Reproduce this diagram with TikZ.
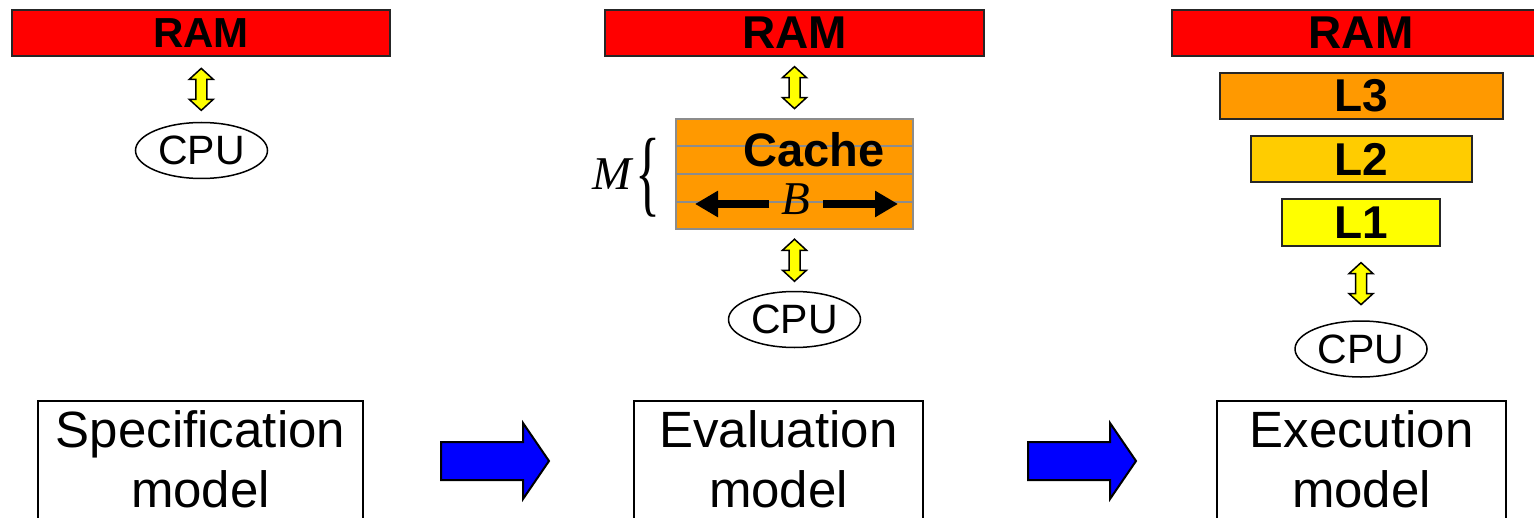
\documentclass[tikz,border=0pt]{standalone}
\usepackage{fontspec}
\usepackage{graphicx}
\setmainfont{Liberation Sans}
\newfontfamily\timesfont{Liberation Serif}
\usetikzlibrary{calc,arrows.meta,shapes.geometric}
\definecolor{ramred}{HTML}{FF0000}
\definecolor{cacheorange}{HTML}{FF9900}
\definecolor{ltwo}{HTML}{FFCC00}
\definecolor{lone}{HTML}{FFFF00}
\definecolor{busyellow}{HTML}{FFFF00}
\definecolor{flowblue}{HTML}{0000FF}
\definecolor{rimgray}{HTML}{8C8C8C}
\begin{document}
\begin{tikzpicture}[x=0.5pt,y=-0.5pt,
  membox/.style={draw=black!85, line width=1pt, rectangle, inner sep=0pt,
    minimum height=23pt, font=\bfseries\fontsize{23pt}{27pt}\selectfont},
  cpunode/.style={draw, ellipse, line width=0.75pt, minimum width=66pt,
    minimum height=28pt, inner sep=0pt, font=\fontsize{20.5pt}{24pt}\selectfont},
  modelbox/.style={draw, line width=0.75pt, rectangle, anchor=north,
    minimum height=80pt, inner sep=0pt},
  modeltext/.style={anchor=base, inner sep=0pt, font=\fontsize{25.5pt}{30pt}\selectfont},
  mathtext/.style={anchor=base, inner sep=0pt, font=\timesfont\itshape\fontsize{23.5pt}{28pt}\selectfont},
  barrow/.style={line width=4pt, -{Triangle[length=11.5pt,width=12.5pt]}},
  pics/yarrow/.style={code={
    \draw[fill=busyellow, line width=0.75pt, line join=miter]
      (0,-21) -- (12,-10) -- (5.5,-10) -- (5.5,10) -- (12,10) -- (0,21)
      -- (-12,10) -- (-5.5,10) -- (-5.5,-10) -- (-12,-10) -- cycle;}},
  pics/bluearrow/.style={code={
    \draw[fill=flowblue, line width=1pt, line join=miter]
      (-54,-19) -- (28,-19) -- (28,-38) -- (54,0) -- (28,38) -- (28,19)
      -- (-54,19) -- cycle;}}
]
\useasboundingbox (0,0) rectangle (1534,518);
\clip (0,0) rectangle (1534,518);

% ---------- specification model: RAM <-> CPU ----------
\node (ram1) [membox, fill=ramred, minimum width=189pt,
  font=\bfseries\fontsize{21pt}{25pt}\selectfont] at (201,33) {RAM};
\node (cpu1) [cpunode] at (201.5,150.5) {CPU};
\pic at ($(ram1.south)!0.5!(cpu1.north)$) {yarrow};

% ---------- evaluation model: RAM <-> cache <-> CPU ----------
\node (ram2) [membox, fill=ramred, minimum width=189.5pt] at (794.5,33) {RAM};
\node (cache) [draw=rimgray, line width=0.75pt, fill=cacheorange, rectangle,
  minimum width=118.5pt, minimum height=55pt, inner sep=0pt] at (794.5,174) {};
\foreach \f in {0.25,0.5,0.75}
  \draw[rimgray, line width=0.75pt]
    ($(cache.north west)!\f!(cache.south west)$) --
    ($(cache.north east)!\f!(cache.south east)$);
\node (cachetxt) [anchor=base, inner sep=0pt,
  font=\bfseries\fontsize{23.5pt}{28pt}\selectfont] at (814,167) {Cache};
\node (blabel) [mathtext, inner xsep=6pt] at (796,214) {B};
\coordinate (bleft) at (695,204);
\coordinate (bright) at (898,204);
\draw[barrow] (blabel.west |- bleft) -- (bleft);
\draw[barrow] (blabel.east |- bright) -- (bright);
\node (mlabel) [mathtext] at (612,190) {M};
\node (brace) [inner sep=0pt] at (647.5,177.5)
  {\resizebox*{12.5pt}{39.5pt}{\timesfont\{}};
\node (cpu2) [cpunode] at (794.5,319.5) {CPU};
\pic at ($(ram2.south)!0.5!(cache.north)$) {yarrow};
\pic at ($(cache.south)!0.5!(cpu2.north)$) {yarrow};

% ---------- execution model: RAM, L3, L2, L1 <-> CPU ----------
\node (ram3) [membox, fill=ramred, minimum width=189pt] at (1361,33) {RAM};
\node (lthree) [membox, fill=cacheorange, minimum width=141.5pt] at (1361.5,96) {L3};
\node (ltwobox) [membox, fill=ltwo, minimum width=110.5pt] at (1361.5,159) {L2};
\node (lonebox) [membox, fill=lone, minimum width=79pt, minimum height=23.5pt] at (1361,222.5) {L1};
\node (cpu3) [cpunode] at (1361,349) {CPU};
\pic at ($(lonebox.south)!0.5!(cpu3.north)$) {yarrow};

% ---------- the three models and the steps between them ----------
\node (spec) [modelbox, minimum width=162.5pt] at (200.5,400) {};
\node (spectxt) [modeltext] at (200.5,447) {Specification};
\node (specsub) [modeltext] at (200.5,507) {model};

\node (eval) [modelbox, minimum width=144.5pt] at (778.5,400) {};
\node (evaltxt) [modeltext] at (778.5,447) {Evaluation};
\node (evalsub) [modeltext] at (778.5,507) {model};

\node (exec) [modelbox, minimum width=144.5pt] at (1361.5,400) {};
\node (exectxt) [modeltext] at (1361.5,447) {Execution};
\node (execsub) [modeltext] at (1361.5,507) {model};

\pic at (495,461) {bluearrow};
\pic at (1082,461) {bluearrow};
\end{tikzpicture}
\end{document}
